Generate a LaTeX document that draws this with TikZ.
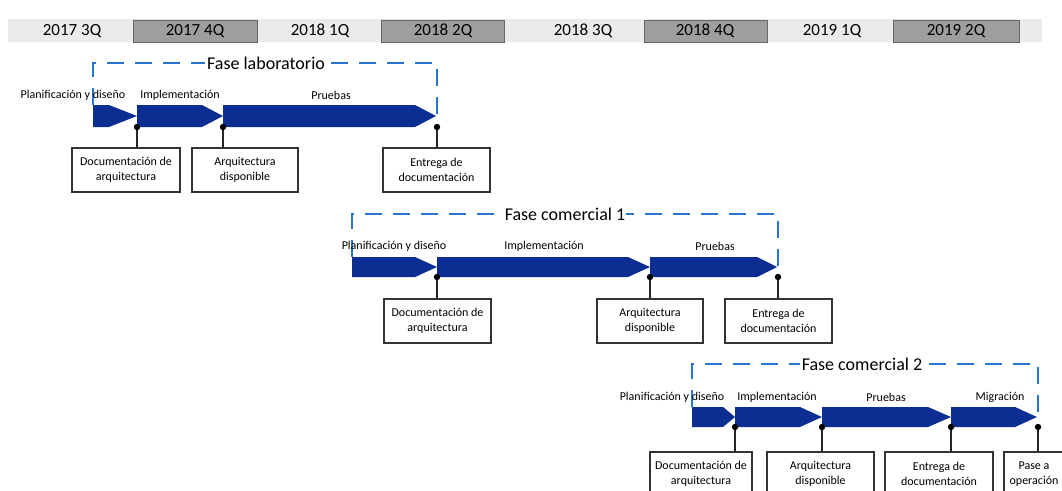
\documentclass[tikz,border=0pt]{standalone}
\usepackage{fontspec}
\setmainfont{Carlito}
\definecolor{arrowblue}{RGB}{12,45,145}
\definecolor{dashblue}{RGB}{40,115,205}
\newcommand\chevron[5]{\fill[arrowblue] (#1,#4) -- (#2,#4) -- (#3,{(#4+#5)/2}) -- (#2,#5) -- (#1,#5) -- cycle;}
\begin{document}
\begin{tikzpicture}[x=1pt,y=-1pt,
  qlabel/.style={font=\fontsize{17}{20}\selectfont, inner sep=0pt},
  qcell/.style={fill=black!38, draw=black!60, line width=0.8pt},
  phasebox/.style={draw=dashblue, line width=2pt, dash pattern=on 17pt off 11pt},
  phasetitle/.style={font=\fontsize{18}{21}\selectfont, fill=white, inner sep=2pt},
  steplabel/.style={font=\fontsize{12}{14}\selectfont, inner sep=0pt},
  milebox/.style={draw=black!80, line width=1.1pt, fill=white, minimum height=44pt, align=center, font=\fontsize{12}{15}\selectfont, inner sep=0pt},
  dotlink/.style={draw=black!85, line width=1.1pt},
]
\useasboundingbox (0,0) rectangle (1062,490);
\clip (0,0) rectangle (1062,490);

% header band
\fill[black!8] (8,19) rectangle (1042,42);
\draw[qcell] (133,20) rectangle (257,42);
\draw[qcell] (381,20) rectangle (504,42);
\draw[qcell] (644,20) rectangle (767,42);
\draw[qcell] (893,20) rectangle (1019,42);
\node[qlabel] (q1) at (72,31) {2017 3Q};
\node[qlabel] (q2) at (195,31) {2017 4Q};
\node[qlabel] (q3) at (320,31) {2018 1Q};
\node[qlabel] (q4) at (443,31) {2018 2Q};
\node[qlabel] (q5) at (583,31) {2018 3Q};
\node[qlabel] (q6) at (705,31) {2018 4Q};
\node[qlabel] (q7) at (832,31) {2019 1Q};
\node[qlabel] (q8) at (956,31) {2019 2Q};

% ---------------- Fase laboratorio
\draw[phasebox] (93,105) -- (93,63) -- (437,63) -- (437,116);
\node[phasetitle] (tl) at (266,63) {Fase laboratorio};
\chevron{93}{109}{137}{105}{127}
\chevron{137}{202}{223}{105}{127}
\chevron{223}{415}{436}{105}{127}
\node[steplabel] (la1) at (73,95) {Planificación y diseño};
\node[steplabel] (la2) at (180,95) {Implementación};
\node[steplabel] (la3) at (331,95) {Pruebas};
\coordinate (ld1) at (137,127);
\coordinate (ld2) at (223,127);
\coordinate (ld3) at (437,127);
\node[milebox, minimum width=108pt] (lb1) at (126,170) {Documentación de\\arquitectura};
\node[milebox, minimum width=106pt] (lb2) at (245,170) {Arquitectura\\disponible};
\node[milebox, minimum width=107pt] (lb3) at (436.5,170) {Entrega de\\documentación};
\foreach \d/\b in {ld1/lb1, ld2/lb2, ld3/lb3}{
  \draw[dotlink] (\d) -- (\d |- \b.north);
  \fill (\d) circle (3.2);
}

% ---------------- Fase comercial 1
\draw[phasebox] (352,257) -- (352,214) -- (778,214) -- (778,267);
\node[phasetitle, inner sep=1pt] (tc) at (565,214) {Fase comercial 1};
\chevron{352}{415}{437}{257}{277}
\chevron{437}{628}{650}{257}{277}
\chevron{650}{757}{777}{257}{277}
\node[steplabel] (ca1) at (394,246) {Planificación y diseño};
\node[steplabel] (ca2) at (544,246) {Implementación};
\node[steplabel] (ca3) at (715,246) {Pruebas};
\coordinate (cd1) at (437,277);
\coordinate (cd2) at (650,277);
\coordinate (cd3) at (778,277);
\node[milebox, minimum width=107pt] (cb1) at (437.5,321) {Documentación de\\arquitectura};
\node[milebox, minimum width=106pt] (cb2) at (650,321) {Arquitectura\\disponible};
\node[milebox, minimum width=107pt] (cb3) at (778.5,321) {Entrega de\\documentación};
\foreach \d/\b in {cd1/cb1, cd2/cb2, cd3/cb3}{
  \draw[dotlink] (\d) -- (\d |- \b.north);
  \fill (\d) circle (3.2);
}

% ---------------- Fase comercial 2
\draw[phasebox] (692,407) -- (692,364) -- (1038,364) -- (1038,417);
\node[phasetitle] (td) at (862,364) {Fase comercial 2};
\chevron{692}{723}{735}{407}{427}
\chevron{735}{800}{822}{407}{427}
\chevron{822}{928}{951}{407}{427}
\chevron{951}{1015}{1037}{407}{427}
\node[steplabel] (ea1) at (672,397) {Planificación y diseño};
\node[steplabel] (ea2) at (777,397) {Implementación};
\node[steplabel] (ea3) at (886,397) {Pruebas};
\node[steplabel] (ea4) at (1000,397) {Migración};
\coordinate (ed1) at (735,427);
\coordinate (ed2) at (822,427);
\coordinate (ed3) at (951,427);
\coordinate (ed4) at (1038,427);
\node[milebox, minimum width=102pt] (eb1) at (701,474) {Documentación de\\arquitectura};
\node[milebox, minimum width=107pt] (eb2) at (820.5,474) {Arquitectura\\disponible};
\node[milebox, minimum width=108pt] (eb3) at (939,474) {Entrega de\\documentación};
\node[milebox, minimum width=60pt] (eb4) at (1034,474) {Pase a\\operación};
\foreach \d/\b in {ed1/eb1, ed2/eb2, ed3/eb3, ed4/eb4}{
  \draw[dotlink] (\d) -- (\d |- \b.north);
  \fill (\d) circle (3.2);
}
\end{tikzpicture}
\end{document}
